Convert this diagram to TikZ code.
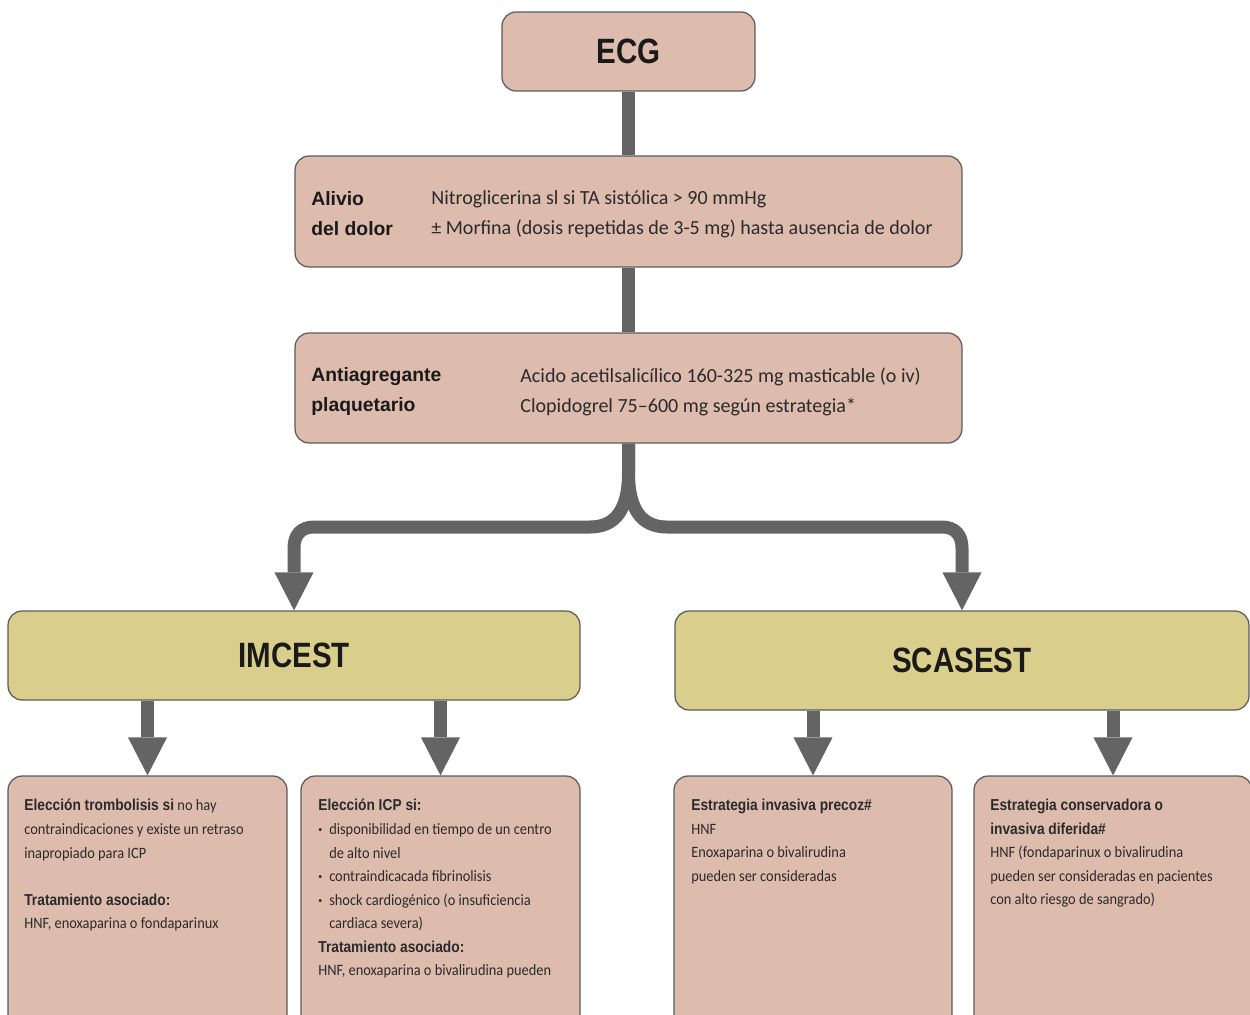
\documentclass[tikz,border=0pt]{standalone}
\usepackage{fontspec}
\usepackage{graphicx}
\setmainfont{Carlito}
\newfontfamily\bodyfont{Carlito}
\newfontfamily\condfont{Carlito}[FakeStretch=0.91]
\newfontfamily\headfont{Liberation Sans}[FakeStretch=0.87]
\newfontfamily\titlefont{Liberation Sans}[FakeStretch=0.84]
\newfontfamily\labelfont{Liberation Sans}
\usetikzlibrary{arrows.meta}
\definecolor{boxpink}{HTML}{DDBCAE}
\definecolor{boxyellow}{HTML}{D9CE8B}
\definecolor{boxline}{HTML}{5A5A5A}
\definecolor{flow}{HTML}{646464}
\definecolor{ink}{HTML}{1A1A1A}
\definecolor{bodyink}{HTML}{2A2A2A}
\newcommand\hbold[1]{{\headfont\bfseries #1}}
\newcommand\bulletitem{\makebox[6.2pt][l]{\raisebox{0.25ex}{\scalebox{0.55}{•}}}}
\newcommand\bulletgap{\hspace*{6.2pt}}

\begin{document}
\begin{tikzpicture}[x=0.02cm,y=-0.02cm,
  panel/.style={draw=boxline, line width=0.7pt, rounded corners=0.28cm, inner sep=0pt},
  pinkpanel/.style={panel, fill=boxpink},
  yellowpanel/.style={panel, fill=boxyellow},
  title/.style={font=\titlefont\bfseries\fontsize{20}{23}\selectfont, text=ink},
  sidehead/.style={font=\labelfont\bfseries\fontsize{11}{17}\selectfont, text=ink, align=left, inner sep=0pt, anchor=west},
  bodytext/.style={font=\bodyfont\fontsize{11.4}{17}\selectfont, text=bodyink, align=left, inner sep=0pt, anchor=west},
  smalltext/.style={font=\condfont\fontsize{9}{13.4}\selectfont, text=bodyink, align=left, inner sep=0pt, anchor=north west},
  flowline/.style={draw=flow, line width=0.26cm},
  flowarrow/.style={flowline, -{Triangle[length=0.76cm 0 0, width=0.78cm 0 0, line width=0pt]}}]

\useasboundingbox (0,0) rectangle (1250,1014);
\clip (0,0) rectangle (1250,1014);

% upper chain
\node[pinkpanel, minimum width=5.06cm, minimum height=1.58cm, title] (ecg) at (628.5,51.5) {ECG};

\node[pinkpanel, minimum width=13.34cm, minimum height=2.22cm] (alivio) at (628.5,211.5) {};
\node[sidehead] (alivioL) at (311,214) {Alivio\\del dolor};
\node[bodytext] (alivioR) at (431,214) {Nitroglicerina sl si TA sistólica > 90 mmHg\\± Morfina (dosis repetidas de 3-5 mg) hasta ausencia de dolor};

\node[pinkpanel, minimum width=13.34cm, minimum height=2.2cm] (anti) at (628.5,388) {};
\node[sidehead] (antiL) at (311,391.5) {Antiagregante\\plaquetario};
\node[bodytext] (antiR) at (520,391.5) {Acido acetilsalicílico 160-325 mg masticable (o iv)\\Clopidogrel 75–600 mg según estrategia*};

% the two branches
\node[yellowpanel, minimum width=11.44cm, minimum height=1.78cm, title] (imcest) at (294,655.5) {IMCEST};
\node[yellowpanel, minimum width=11.48cm, minimum height=1.98cm, title] (scasest) at (962,660.5) {SCASEST};

% treatment boxes
\node[pinkpanel, minimum width=5.58cm, minimum height=5.28cm] (b1) at (147.5,908) {};
\node[pinkpanel, minimum width=5.58cm, minimum height=5.28cm] (b2) at (440.5,908) {};
\node[pinkpanel, minimum width=5.56cm, minimum height=5.28cm] (b3) at (813,908) {};
\node[pinkpanel, minimum width=5.56cm, minimum height=5.28cm] (b4) at (1113,908) {};

\node[smalltext] (b1t) at (24,799) {\hbold{Elección trombolisis si} no hay\\
contraindicaciones y existe un retraso\\
inapropiado para ICP\\[13.4pt]
\hbold{Tratamiento asociado:}\\
HNF, enoxaparina o fondaparinux};

\node[smalltext] (b2t) at (318,799) {\hbold{Elección ICP si:}\\
\bulletitem disponibilidad en tiempo de un centro\\
\bulletgap de alto nivel\\
\bulletitem contraindicacada fibrinolisis\\
\bulletitem shock cardiogénico (o insuficiencia\\
\bulletgap cardiaca severa)\\
\hbold{Tratamiento asociado:}\\
HNF, enoxaparina o bivalirudina pueden};

\node[smalltext] (b3t) at (691,799) {\hbold{Estrategia invasiva precoz\#}\\
HNF\\
Enoxaparina o bivalirudina\\
pueden ser consideradas};

\node[smalltext] (b4t) at (990,799) {\hbold{Estrategia conservadora o}\\
\hbold{invasiva diferida\#}\\
HNF (fondaparinux o bivalirudina\\
pueden ser consideradas en pacientes\\
con alto riesgo de sangrado)};

% connectors
\draw[flowline] (ecg.south) -- (alivio.north);
\draw[flowline] (alivio.south) -- (anti.north);
\draw[flowarrow] (anti.south) -- (628.5,473) .. controls (628.5,510) and (615,527) .. (590,527)
  -- (314,527) .. controls (301,527) and (294,535) .. (294,548) -- (imcest.north);
\draw[flowarrow] (anti.south) -- (628.5,473) .. controls (628.5,510) and (642,527) .. (667,527)
  -- (942,527) .. controls (955,527) and (962,535) .. (962,548) -- (scasest.north);

\draw[flowarrow] (imcest.south -| b1.north) -- (b1.north);
\draw[flowarrow] (imcest.south -| b2.north) -- (b2.north);
\draw[flowarrow] (scasest.south -| b3.north) -- (b3.north);
\draw[flowarrow] (scasest.south -| b4.north) -- (b4.north);
\end{tikzpicture}
\end{document}
